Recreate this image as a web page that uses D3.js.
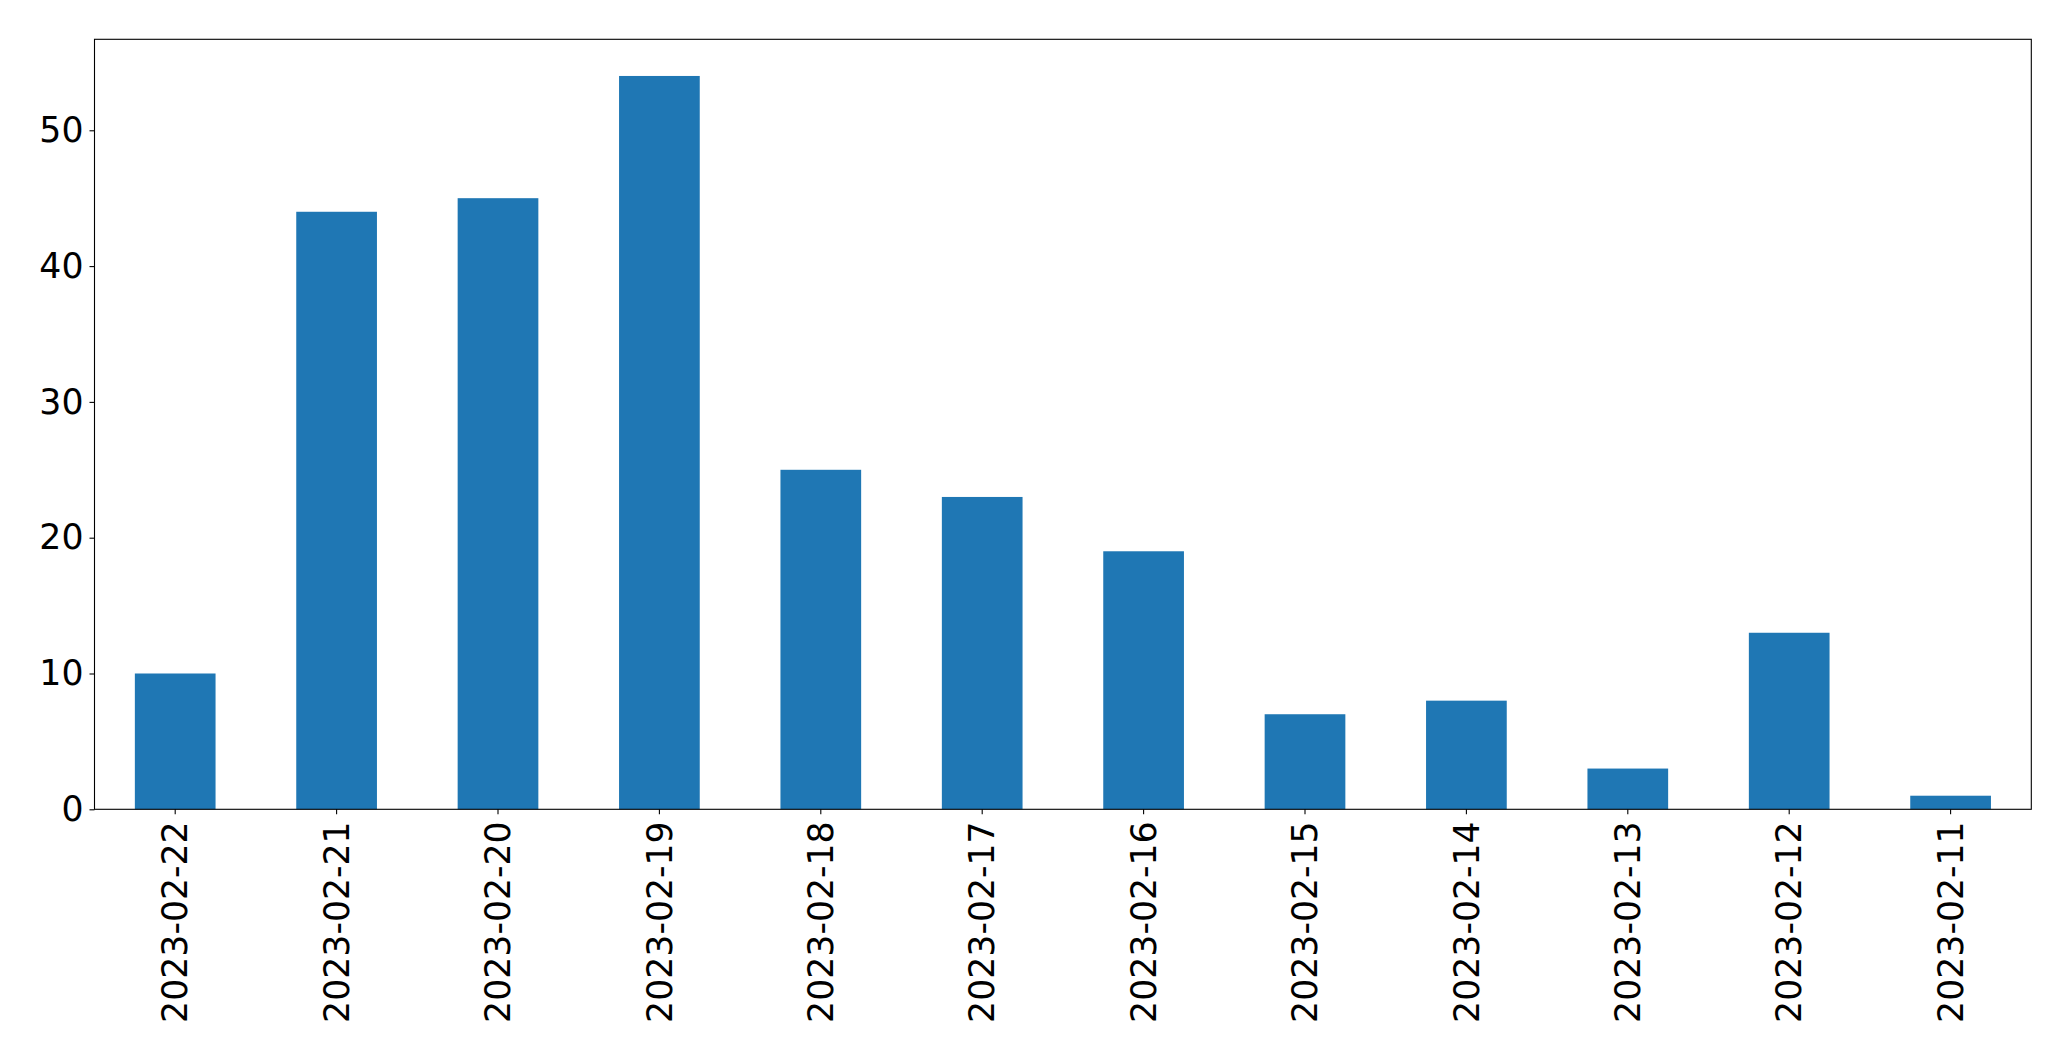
<!DOCTYPE html>
<html>
<head>
<meta charset="utf-8">
<script src="https://cdn.jsdelivr.net/npm/d3@7"></script>
<style>
html,body{margin:0;padding:0;background:#fff;}
svg{display:block;}
text{font-family:"DejaVu Sans",sans-serif;fill:#000;}
</style>
</head>
<body>
<script>
const categories = ["2023-02-22","2023-02-21","2023-02-20","2023-02-19","2023-02-18","2023-02-17","2023-02-16","2023-02-15","2023-02-14","2023-02-13","2023-02-12","2023-02-11"];
const values = [10, 44, 45, 54, 25, 23, 19, 7, 8, 3, 13, 1];
const yTicks = [0, 10, 20, 30, 40, 50];

const W = 2071, H = 1061;
const m = {left: 94.5, right: 2031.3, top: 39.3, bottom: 809.3};

const svg = d3.select("body").append("svg").attr("width", W).attr("height", H);

const x = d3.scaleBand().domain(categories).range([m.left, m.right]).paddingInner(0.5).paddingOuter(0.25);
const y = d3.scaleLinear().domain([0, d3.max(values) * 1.05]).range([m.bottom, m.top]);

svg.append("g").selectAll("rect").data(values).join("rect")
  .attr("x", (d, i) => x(categories[i]))
  .attr("y", d => y(d))
  .attr("width", x.bandwidth())
  .attr("height", d => y(0) - y(d))
  .attr("fill", "#1f77b4");

const fs = 34.7;
const yAxis = d3.axisLeft(y).tickValues(yTicks).tickSize(5).tickPadding(6).tickFormat(d3.format("d"));
const gy = svg.append("g").attr("transform", `translate(${m.left},0)`).call(yAxis);
gy.select(".domain").remove();
gy.selectAll(".tick line").attr("stroke", "#000").attr("stroke-width", 1.1);
gy.selectAll(".tick text").attr("font-size", fs).attr("font-family", "DejaVu Sans");

const xAxis = d3.axisBottom(x).tickSize(5).tickPadding(8);
const gx = svg.append("g").attr("transform", `translate(0,${m.bottom})`).call(xAxis);
gx.select(".domain").remove();
gx.selectAll(".tick line").attr("stroke", "#000").attr("stroke-width", 1.1);
gx.selectAll(".tick text")
  .attr("font-size", fs).attr("font-family", "DejaVu Sans")
  .attr("transform", "rotate(-90)")
  .attr("x", -12).attr("y", 0).attr("dy", "0.35em")
  .attr("text-anchor", "end");

svg.append("rect")
  .attr("x", m.left).attr("y", m.top)
  .attr("width", m.right - m.left).attr("height", m.bottom - m.top)
  .attr("fill", "none").attr("stroke", "#000").attr("stroke-width", 1.1);
</script>
</body>
</html>
